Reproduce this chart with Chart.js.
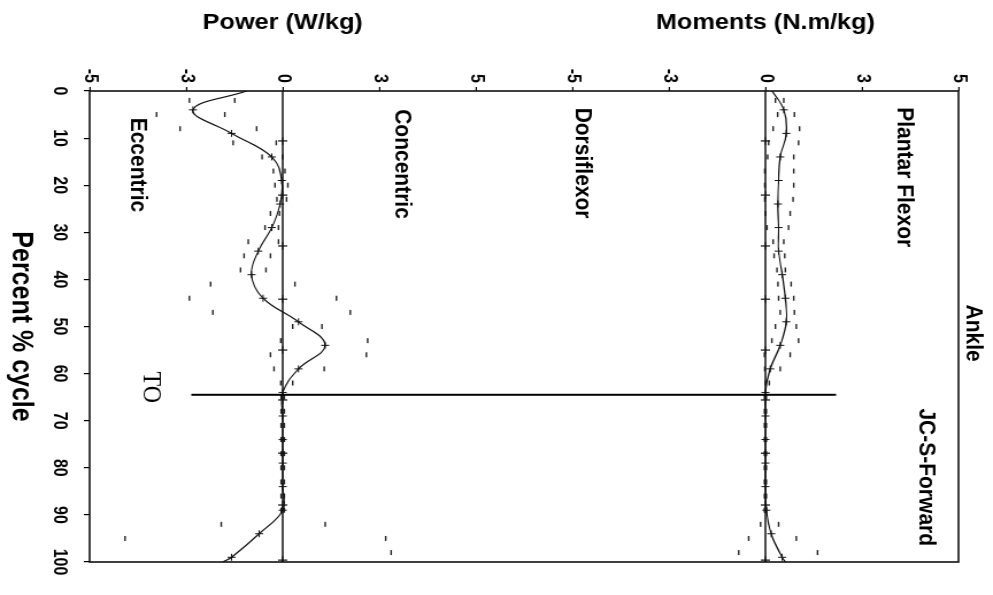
<!DOCTYPE html>
<html>
<head>
<meta charset="utf-8">
<script src="https://cdn.jsdelivr.net/npm/chart.js@4.4.1/dist/chart.umd.min.js"></script>
<style>
  html, body { margin: 0; padding: 0; background: #fff; overflow: hidden; }
  /* chart is laid out upright, then turned a quarter turn clockwise onto the page */
  #page {
    position: absolute; left: 0; top: 0; width: 595px; height: 864px;
    transform-origin: 0 0;
    transform: translate(993px, 0) rotate(90deg) scale(1, 1.1493);
  }
</style>
</head>
<body>
<div id="page"><canvas id="ankleChart" width="595" height="864"></canvas></div>
<script>
// percent of gait cycle where the mean curves are sampled
const meanPct = [0, 4, 9, 14, 19, 24, 29, 34, 39, 44, 49, 54, 59, 64, 69, 74, 79, 84, 89, 94, 99, 100];
const powerMean = [-1.12, -2.79, -1.59, -0.34, -0.03, -0.08, -0.34, -0.76, -0.97, -0.61, 0.49, 1.32, 0.49, 0, 0, 0, 0, 0, 0, -0.73, -1.59, -1.86];
const momentMean = [0.21, 0.57, 0.65, 0.46, 0.41, 0.39, 0.41, 0.41, 0.52, 0.62, 0.65, 0.46, 0.15, 0, 0, 0, 0, 0, 0.03, 0.18, 0.52, 0.62];

// mean +/- 1 SD, shown as short dashes
const sdPct = [2, 5, 8, 11, 14, 17, 20, 23, 26, 29, 32, 35, 38, 41, 44, 47, 50, 53, 56, 59, 62, 65, 68, 71, 74, 77, 80, 83, 86, 89, 92, 95, 98];
const powerHigh = [-1.49, -1.8, -0.81, -0.2, 0.0, 0.07, 0.16, 0.12, -0.1, -0.13, -0.13, -0.38, -0.52, 0.38, 1.67, 2.1, 1.22, 2.64, 2.6, 1.29, 0.31,
  0.05, 0.05, 0.05, 0.05, 0.05, 0.05, 0.05, 0.05, 0.05, 1.32, 3.2, 3.37];
const powerLow = [-2.9, -3.92, -3.19, -1.54, -0.64, -0.29, -0.24, -0.18, -0.38, -0.55, -1.07, -1.2, -1.31, -2.24, -2.9, -2.17, 0.31, -0.06, -0.38, -0.27, -0.06,
  -0.05, -0.05, -0.05, -0.05, -0.05, -0.05, -0.05, -0.05, -0.05, -1.91, -4.9, null];
const momentHigh = [0.57, 0.9, 1.06, 1.03, 0.88, 0.88, 0.88, 0.86, 0.77, 0.72, 0.57, 0.6, 0.62, 0.8, 0.88, 0.9, 0.96, 1.03, 0.77, 0.46, 0.12,
  0.03, 0.03, 0.03, 0.03, 0.03, 0.03, 0.03, 0.03, 0.03, 0.41, 0.96, 1.62];
const momentLow = [0.31, 0.38, 0.24, 0.1, 0.07, -0.02, -0.02, -0.02, 0.0, 0.05, 0.24, 0.27, 0.36, 0.39, 0.41, 0.46, 0.31, 0.2, -0.03, -0.02, 0.0,
  -0.03, -0.03, -0.03, -0.03, -0.03, -0.03, -0.03, -0.03, -0.03, -0.15, -0.52, -0.83];

// zero reference line and its cross ticks
const zeroPct = [0, 10.6, 22.1, 32.9, 44.2, 55.0, 65.6, 76.9, 87.9, 99.6, 100];
const zeroVal = [0, 0, 0, 0, 0, 0, 0, 0, 0, 0, 0];

// value axes: evenly spaced ticks with their printed labels
const valueTicks = [-6, -3, 0, 3, 6];
const valueTickLabels = ['-5', '-3', '0', '3', '5'];

// toe off
const toPct = 64.5;
const toPowerStart = -2.84;
const toMomentEnd = 2.2;

const notes = [
  { text: 'Eccentric', pct: 15.7, axis: 'yPow', value: -4.5 },
  { text: 'Concentric', pct: 15.5, axis: 'yPow', value: 3.7 },
  { text: 'Dorsiflexor', pct: 15.3, axis: 'yMom', value: -5.67 },
  { text: 'Plantar Flexor', pct: 18.3, axis: 'yMom', value: 4.3 },
  { text: 'JC-S-Forward', pct: 82, axis: 'yMom', value: 4.98 },
  { text: 'Ankle', pct: 51.4, axis: 'yMom', value: 6.47 },
  { text: 'TO', pct: 62.9, axis: 'yPow', value: -4.1, serif: true }
];

const SANS = "'Liberation Sans', Arial, sans-serif";
const pts = (xs, ys) => xs.map((x, i) => ({ x: x, y: ys[i] }));
const endsHidden = (arr, r) => arr.map((_, i) => (i === 0 || i === arr.length - 1) ? 0 : r);

function zeroLine(axis) {
  return {
    data: pts(zeroPct, zeroVal), yAxisID: axis,
    borderColor: '#111', borderWidth: 1.5,
    pointStyle: 'cross', pointRadius: endsHidden(zeroPct, 4),
    pointBorderColor: '#111', pointBorderWidth: 1.2
  };
}
function meanLine(values, axis) {
  return {
    data: pts(meanPct, values), yAxisID: axis,
    borderColor: '#111', borderWidth: 1.2, tension: 0.4,
    pointStyle: 'cross', pointRadius: endsHidden(meanPct, 3.5),
    pointBorderColor: '#111', pointBorderWidth: 1
  };
}
function sdDashes(values, axis) {
  return {
    data: pts(sdPct, values), yAxisID: axis, showLine: false,
    pointStyle: 'line', pointRadius: 2.5,
    pointBorderColor: '#222', pointBorderWidth: 1.4
  };
}

// frame, toe-off line and text notes
const annotate = {
  id: 'annotate',
  beforeDatasetsDraw(chart) {
    const { ctx, chartArea: a } = chart;
    ctx.save();
    ctx.strokeStyle = '#111';
    ctx.lineWidth = 1.6;
    ctx.strokeRect(a.left, a.top, a.right - a.left, a.bottom - a.top);
    ctx.restore();
  },
  afterDatasetsDraw(chart) {
    const { ctx, scales } = chart;
    ctx.save();
    const x = scales.x.getPixelForValue(toPct);
    ctx.strokeStyle = '#000';
    ctx.lineWidth = 2;
    ctx.beginPath();
    ctx.moveTo(x, scales.yPow.getPixelForValue(toPowerStart));
    ctx.lineTo(x, scales.yMom.getPixelForValue(toMomentEnd));
    ctx.stroke();

    ctx.fillStyle = '#000';
    ctx.textAlign = 'center';
    ctx.textBaseline = 'middle';
    notes.forEach(n => {
      ctx.font = n.serif ? "24px 'Liberation Serif', 'Times New Roman', serif" : 'bold 21px ' + SANS;
      ctx.fillText(n.text, scales.x.getPixelForValue(n.pct), scales[n.axis].getPixelForValue(n.value));
    });
    ctx.restore();
  }
};

function valueAxis(title, weight) {
  return {
    type: 'linear', position: 'left', stack: 'vals', stackWeight: 12, weight: weight,
    min: -6, max: 6,
    afterBuildTicks: s => { s.ticks = valueTicks.map(v => ({ value: v })); },
    afterFit: s => { s.width = 91; },
    ticks: {
      color: '#000', padding: 4,
      font: { family: SANS, size: 16, weight: 'bold' },
      callback: v => valueTickLabels[valueTicks.indexOf(v)]
    },
    grid: { drawOnChartArea: false, tickLength: 4, color: '#000', lineWidth: 1.2 },
    border: { display: false },
    title: {
      display: true, text: title, color: '#000',
      font: { family: SANS, size: 22, weight: 'bold' },
      padding: { top: 10, bottom: 0 }
    }
  };
}

new Chart(document.getElementById('ankleChart'), {
  type: 'line',
  data: {
    datasets: [
      zeroLine('yPow'), zeroLine('yMom'),
      meanLine(powerMean, 'yPow'), meanLine(momentMean, 'yMom'),
      sdDashes(powerHigh, 'yPow'), sdDashes(powerLow, 'yPow'),
      sdDashes(momentHigh, 'yMom'), sdDashes(momentLow, 'yMom')
    ]
  },
  options: {
    responsive: false,
    animation: false,
    layout: { padding: { top: 30, right: 33, bottom: 0, left: 0 } },
    plugins: { legend: { display: false }, tooltip: { enabled: false } },
    scales: {
      x: {
        type: 'linear', position: 'bottom', min: 0, max: 100,
        afterFit: s => { s.height = 78; },
        ticks: { stepSize: 10, color: '#000', padding: 12, font: { family: SANS, size: 16, weight: 'bold' } },
        grid: { drawOnChartArea: false, tickLength: 5, color: '#000', lineWidth: 1.2 },
        border: { display: false },
        title: {
          display: true, text: 'Percent % cycle', color: '#000',
          font: { family: SANS, size: 25, weight: 'bold' },
          padding: { top: 0, bottom: 3 }
        }
      },
      yMom: valueAxis('Moments (N.m/kg)', 3),
      ySpace: {
        type: 'linear', position: 'left', stack: 'vals', stackWeight: 3, weight: 2,
        min: 0, max: 1,
        afterFit: s => { s.width = 91; },
        ticks: { display: false },
        grid: { display: false },
        border: { display: false }
      },
      yPow: valueAxis('Power (W/kg)', 1)
    }
  },
  plugins: [annotate]
});
</script>
</body>
</html>
